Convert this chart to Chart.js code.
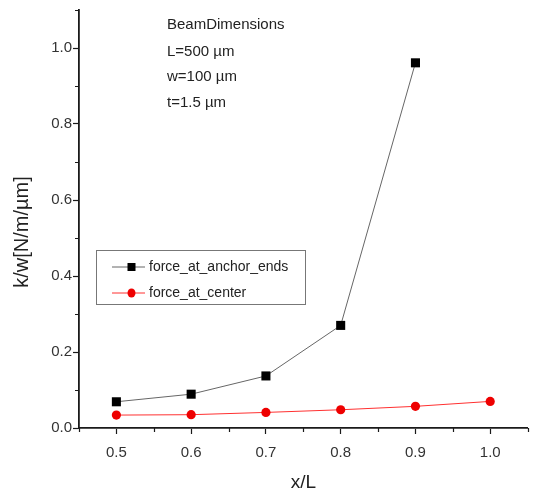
<!DOCTYPE html>
<html>
<head>
<meta charset="utf-8">
<script src="https://cdn.jsdelivr.net/npm/chart.js@4"></script>
<style>
  html, body { margin: 0; padding: 0; background: #fff; }
  canvas { display: block; }
</style>
</head>
<body>
<canvas id="grafico" width="534" height="492"></canvas>
<script>
// datos
const xValores = [0.5, 0.6, 0.7, 0.8, 0.9, 1.0];
const fuerzaExtremos = [0.069, 0.089, 0.137, 0.270, 0.961];
const fuerzaCentro = [0.034, 0.035, 0.041, 0.048, 0.057, 0.070];
const xTicks = [0.5, 0.6, 0.7, 0.8, 0.9, 1.0];
const xMenores = [0.45, 0.55, 0.65, 0.75, 0.85, 0.95, 1.05];
const yTicks = [0.0, 0.2, 0.4, 0.6, 0.8, 1.0];
const yMenores = [0.1, 0.3, 0.5, 0.7, 0.9, 1.1];
const notas = ['BeamDimensions', 'L=500 µm', 'w=100 µm', 't=1.5 µm'];
const tituloY = 'k/w[N/m/µm]';
const tituloX = 'x/L';

const fuente = '"Liberation Sans", Arial, sans-serif';
const colorEje = '#1a1a1a';

// marcas menores, leyenda, notas y título del eje y
const extras = {
    id: 'extras',
    afterDraw(chart) {
        const ctx = chart.ctx;
        const sx = chart.scales.x;
        const sy = chart.scales.y;
        ctx.save();
        ctx.strokeStyle = colorEje;
        ctx.lineWidth = 1.2;
        ctx.beginPath();
        xMenores.forEach(v => {
            const px = Math.round(sx.getPixelForValue(v)) + 0.5;
            ctx.moveTo(px, sy.bottom);
            ctx.lineTo(px, sy.bottom + 4);
        });
        yMenores.forEach(v => {
            const py = Math.round(sy.getPixelForValue(v)) + 0.5;
            ctx.moveTo(sx.left, py);
            ctx.lineTo(sx.left - 4, py);
        });
        ctx.stroke();

        // notas
        ctx.fillStyle = '#222';
        ctx.font = '15px ' + fuente;
        ctx.textBaseline = 'middle';
        ctx.textAlign = 'left';
        const filasNotas = [25, 51.7, 76.7, 102.7];
        notas.forEach((t, i) => ctx.fillText(t, 167, filasNotas[i]));

        // título eje y
        ctx.save();
        ctx.translate(22, 232);
        ctx.rotate(-Math.PI / 2);
        ctx.textAlign = 'center';
        ctx.font = '20px ' + fuente;
        ctx.fillText(tituloY, 0, 0);
        ctx.restore();

        // leyenda
        ctx.strokeStyle = '#777';
        ctx.lineWidth = 1;
        ctx.strokeRect(96.5, 250.5, 209, 54);
        const filas = [267, 293];
        chart.data.datasets.forEach((ds, i) => {
            const y = filas[i];
            ctx.strokeStyle = ds.borderColor;
            ctx.lineWidth = 1;
            ctx.beginPath();
            ctx.moveTo(112, y);
            ctx.lineTo(145, y);
            ctx.stroke();
            ctx.fillStyle = ds.pointBackgroundColor;
            if (ds.pointStyle === 'rect') {
                ctx.fillRect(127.5, y - 4, 8, 8);
            } else {
                ctx.beginPath();
                ctx.ellipse(131.5, y, 4, 4.5, 0, 0, Math.PI * 2);
                ctx.fill();
            }
            ctx.fillStyle = '#222';
            ctx.font = '14px ' + fuente;
            ctx.textAlign = 'left';
            ctx.fillText(ds.label, 149, y);
        });
        ctx.restore();
    }
};

new Chart(document.getElementById('grafico'), {
    type: 'line',
    data: {
        datasets: [
            {
                label: 'force_at_anchor_ends',
                data: fuerzaExtremos.map((v, i) => ({ x: xValores[i], y: v })),
                borderColor: '#666666',
                borderWidth: 1,
                pointStyle: 'rect',
                pointRadius: 6.4,
                pointBackgroundColor: '#000000',
                pointBorderWidth: 0,
                tension: 0
            },
            {
                label: 'force_at_center',
                data: fuerzaCentro.map((v, i) => ({ x: xValores[i], y: v })),
                borderColor: '#ff3030',
                borderWidth: 1,
                pointStyle: 'circle',
                pointRadius: 4.6,
                pointBackgroundColor: '#ee0000',
                pointBorderWidth: 0,
                tension: 0
            }
        ]
    },
    options: {
        responsive: false,
        animation: false,
        events: [],
        clip: false,
        layout: { padding: { left: 0, right: 1, top: 10, bottom: 0 } },
        plugins: {
            legend: { display: false },
            tooltip: { enabled: false }
        },
        scales: {
            x: {
                type: 'linear',
                min: 0.45,
                max: 1.05,
                afterBuildTicks: s => { s.ticks = xTicks.map(v => ({ value: v })); },
                afterFit: s => { s.height = 64; },
                border: { color: colorEje, width: 1.8 },
                grid: { drawOnChartArea: false, tickLength: 6, tickColor: colorEje, tickWidth: 1.2 },
                ticks: {
                    color: '#333',
                    padding: 10,
                    maxRotation: 0,
                    font: { family: fuente, size: 15 },
                    callback: v => v.toFixed(1)
                },
                title: {
                    display: true,
                    text: tituloX,
                    color: '#222',
                    padding: { top: 0, bottom: -2 },
                    font: { family: fuente, size: 19 }
                }
            },
            y: {
                min: 0,
                max: 1.1,
                afterBuildTicks: s => { s.ticks = yTicks.map(v => ({ value: v })); },
                afterFit: s => { s.width = 79; },
                border: { color: colorEje, width: 1.8 },
                grid: { drawOnChartArea: false, tickLength: 6, tickColor: colorEje, tickWidth: 1.2 },
                ticks: {
                    color: '#333',
                    padding: 1,
                    font: { family: fuente, size: 15 },
                    callback: v => v.toFixed(1)
                }
            }
        }
    },
    plugins: [extras]
});
</script>
</body>
</html>
